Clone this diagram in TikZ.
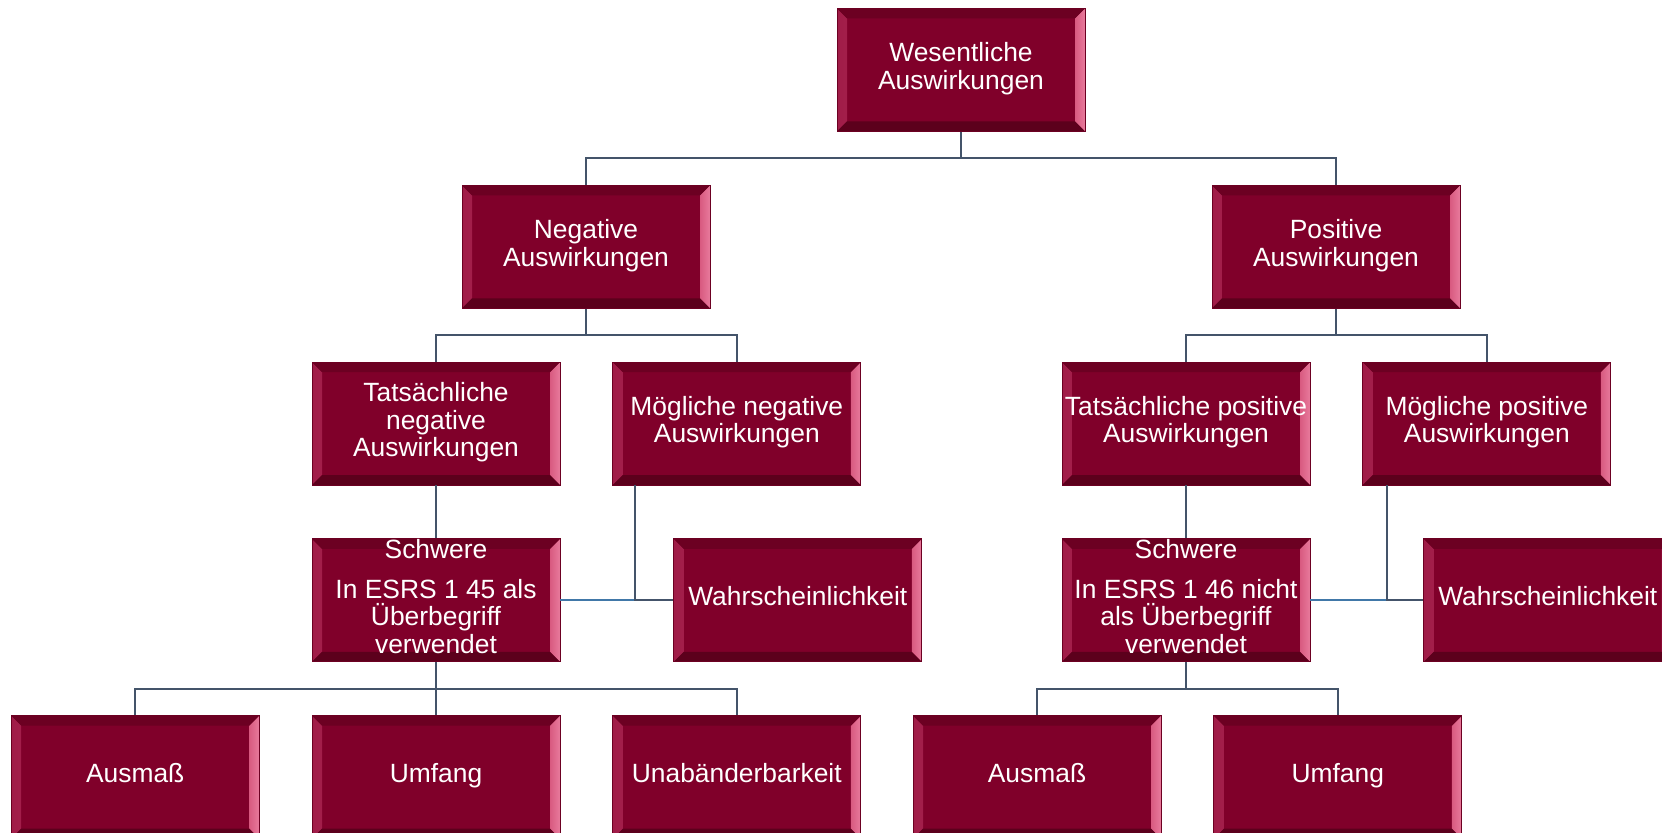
\documentclass[tikz,border=0pt]{standalone}
\usepackage{fontspec}
\setmainfont{Liberation Sans}
\usepackage{tikz}
\usetikzlibrary{positioning}

\definecolor{boxred}{HTML}{80002A}
\definecolor{bevelshade}{HTML}{A01C48}
\definecolor{bevelpink}{HTML}{D85A80}
\definecolor{bevelrose}{HTML}{E87A9C}
\definecolor{beveltop}{HTML}{6C0022}
\definecolor{bevelbottom}{HTML}{5C001C}
\definecolor{linegray}{HTML}{44546A}
\definecolor{lineblue}{HTML}{4178A8}

\begin{document}
\begin{tikzpicture}[
  node distance=26.5pt,
  box/.style={
    rectangle,
    draw=beveltop,
    line width=0.4pt,
    fill=boxred,
    text=white,
    minimum width=124pt,
    minimum height=61.5pt,
    inner xsep=0.5pt,
    inner ysep=0pt,
    font=\fontsize{13.2}{13.8}\selectfont,
    align=center,
    execute at begin node=\strut,
    execute at end node=\strut,
    path picture={
      \shade[left color=bevelshade, right color=bevelpink] (path picture bounding box.south west) -- (path picture bounding box.north west)
        -- ([shift={(5pt,-5pt)}]path picture bounding box.north west) -- ([shift={(5pt,5pt)}]path picture bounding box.south west) -- cycle;
      \shade[left color=bevelpink, right color=bevelrose] (path picture bounding box.south east) -- (path picture bounding box.north east)
        -- ([shift={(-5pt,-5pt)}]path picture bounding box.north east) -- ([shift={(-5pt,5pt)}]path picture bounding box.south east) -- cycle;
      \fill[beveltop] (path picture bounding box.north west) -- (path picture bounding box.north east)
        -- ([shift={(-5pt,-5pt)}]path picture bounding box.north east) -- ([shift={(5pt,-5pt)}]path picture bounding box.north west) -- cycle;
      \fill[bevelbottom] (path picture bounding box.south west) -- (path picture bounding box.south east)
        -- ([shift={(-5pt,5pt)}]path picture bounding box.south east) -- ([shift={(5pt,5pt)}]path picture bounding box.south west) -- cycle;
    }
  },
  line/.style={
    line width=1pt,
    draw=linegray
  },
  sideline/.style={
    line width=1pt,
    draw=lineblue
  }
]

% Page frame
\path[use as bounding box, fill=white] (0,0) rectangle (831pt,-416.5pt);

% Top node
\node[box] (wesentlich) at (480.5pt,-35pt) {Wesentliche\\ Auswirkungen};

% Second row
\node[box, below=of wesentlich, xshift=-187.5pt] (negativ) {Negative\\ Auswirkungen};
\node[box, below=of wesentlich, xshift=187.5pt] (positiv) {Positive\\ Auswirkungen};
\draw[line] (wesentlich.south) -- ++(0,-13.25pt) -| (negativ.north);
\draw[line] (wesentlich.south) -- ++(0,-13.25pt) -| (positiv.north);

% Third row
\node[box, below=of negativ, xshift=-75pt] (tatneg) {Tatsächliche\\ negative\\ Auswirkungen};
\node[box, right=26pt of tatneg] (moegneg) {Mögliche negative\\ Auswirkungen};
\node[box, below=of positiv, xshift=-75pt] (tatpos) {Tatsächliche positive\\ Auswirkungen};
\node[box, right=26pt of tatpos] (moegpos) {Mögliche positive\\ Auswirkungen};
\draw[line] (negativ.south) -- ++(0,-13.25pt) -| (tatneg.north);
\draw[line] (negativ.south) -- ++(0,-13.25pt) -| (moegneg.north);
\draw[line] (positiv.south) -- ++(0,-13.25pt) -| (tatpos.north);
\draw[line] (positiv.south) -- ++(0,-13.25pt) -| (moegpos.north);

% Fourth row: severity and likelihood
\node[box, below=of tatneg] (schwneg) {Schwere\\[6pt] In ESRS 1 45 als\\ Überbegriff\\ verwendet};
\node[box, right=56.5pt of schwneg] (wahrneg) {Wahrscheinlichkeit};
\node[box, below=of tatpos] (schwpos) {Schwere\\[6pt] In ESRS 1 46 nicht\\ als Überbegriff\\ verwendet};
\node[box, right=56.5pt of schwpos] (wahrpos) {Wahrscheinlichkeit};
\draw[line] (tatneg) -- (schwneg);
\draw[line] (tatpos) -- (schwpos);

\coordinate (dropneg) at ([xshift=11.5pt]moegneg.south west);
\coordinate (droppos) at ([xshift=12.5pt]moegpos.south west);
\draw[sideline] (schwneg.east) -- (schwneg.east -| dropneg);
\draw[line] (dropneg) |- (wahrneg.west);
\draw[sideline] (schwpos.east) -- (schwpos.east -| droppos);
\draw[line] (droppos) |- (wahrpos.west);

% Bottom row
\node[box, below=of schwneg] (umfneg) {Umfang};
\node[box, left=26pt of umfneg] (ausneg) {Ausmaß};
\node[box, right=26pt of umfneg] (unab) {Unabänderbarkeit};
\node[box, below=of schwpos, xshift=-74.5pt] (auspos) {Ausmaß};
\node[box, right=26pt of auspos] (umfpos) {Umfang};
\draw[line] (schwneg.south) -- ++(0,-13.25pt) -| (ausneg.north);
\draw[line] (schwneg.south) -- (umfneg.north);
\draw[line] (schwneg.south) -- ++(0,-13.25pt) -| (unab.north);
\draw[line] (schwpos.south) -- ++(0,-13.25pt) -| (auspos.north);
\draw[line] (schwpos.south) -- ++(0,-13.25pt) -| (umfpos.north);

\end{tikzpicture}
\end{document}
